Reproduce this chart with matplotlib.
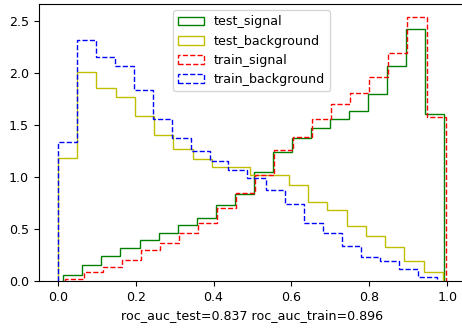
import numpy as np
from matplotlib import pyplot as plt

plt.rcParams['font.size'] = 9.1

# densities, 20 bins per histogram
test_signal = [0.058, 0.155, 0.245, 0.32, 0.39, 0.46, 0.54, 0.61, 0.73, 0.84,
               1.05, 1.24, 1.38, 1.47, 1.56, 1.64, 1.80, 2.07, 2.43, 1.61]
test_background = [1.18, 2.01, 1.86, 1.77, 1.59, 1.41, 1.27, 1.17, 1.10, 1.10,
                   1.02, 1.02, 0.92, 0.76, 0.68, 0.53, 0.43, 0.33, 0.19, 0.09]
train_signal = [0.023, 0.085, 0.135, 0.205, 0.30, 0.37, 0.46, 0.56, 0.70, 0.85,
                1.02, 1.26, 1.385, 1.56, 1.70, 1.81, 1.96, 2.20, 2.54, 1.58]
train_background = [1.34, 2.32, 2.16, 2.07, 1.84, 1.56, 1.38, 1.25, 1.16, 1.07,
                    0.99, 0.88, 0.74, 0.555, 0.46, 0.34, 0.23, 0.19, 0.12, 0.035]

# score range (min, max) of each sample
ranges = {
    "test_signal": (0.014, 0.993),
    "test_background": (0.0, 0.989),
    "train_signal": (0.018, 0.996),
    "train_background": (0.0, 0.974),
}
roc_auc_test = 0.837
roc_auc_train = 0.896

fig = plt.figure(figsize=(4.62, 3.29), dpi=100)
ax = fig.add_axes([38.5 / 462, 48 / 329, (465 - 38.5) / 462, 277 / 329])

series = [
    ("test_signal", test_signal, "g", "-"),
    ("test_background", test_background, "y", "-"),
    ("train_signal", train_signal, "r", "--"),
    ("train_background", train_background, "b", "--"),
]
for name, vals, col, ls in series:
    lo, hi = ranges[name]
    edges = np.linspace(lo, hi, len(vals) + 1)
    ax.hist(edges[:-1], bins=edges, weights=vals, histtype="step",
            color=col, linestyle=ls, linewidth=1.0, label=name)

ax.set_xlim(-0.0498, 1.046)
ax.set_ylim(0, 2.667)
ax.set_xlabel("roc_auc_test=%.3f roc_auc_train=%.3f" % (roc_auc_test, roc_auc_train))
ax.legend(loc="upper center")
plt.savefig("out.png", dpi=100)
